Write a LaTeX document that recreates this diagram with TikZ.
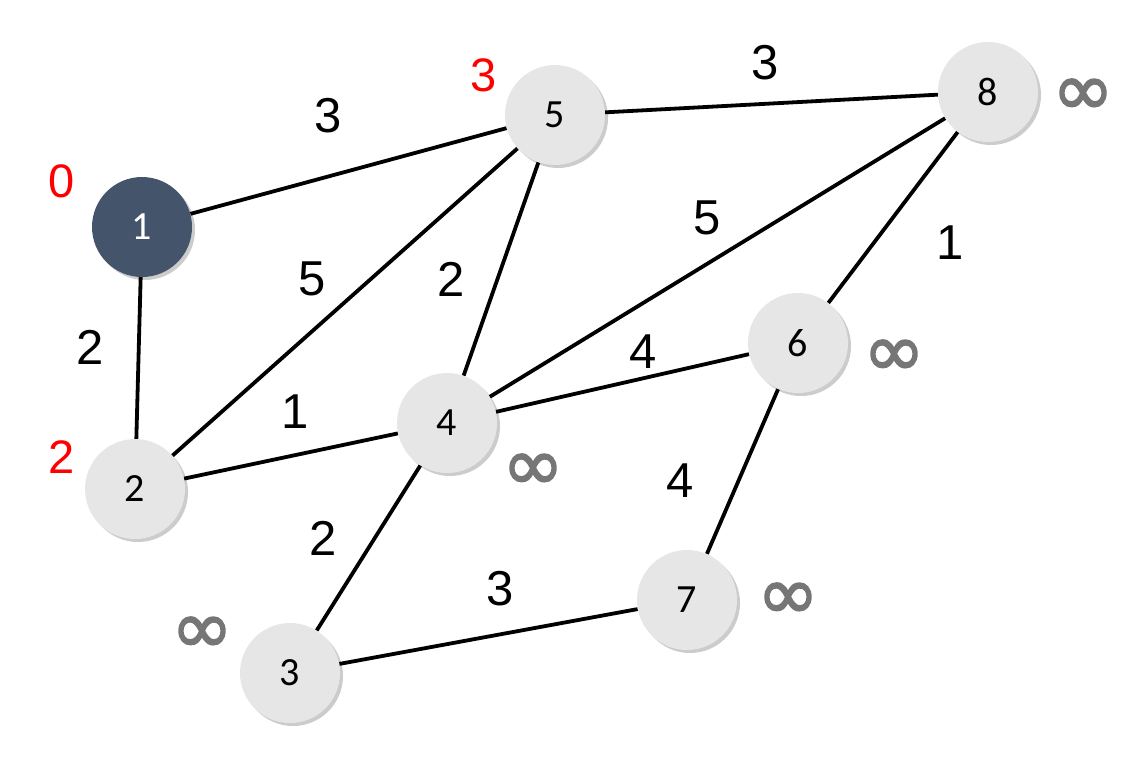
\documentclass[tikz,border=0pt]{standalone}
\usepackage{fontspec}
\setmainfont{Liberation Sans}
\newfontfamily\nodefont{Carlito}
\newfontfamily\inffont[FakeBold=2.2]{DejaVu Sans}
\usetikzlibrary{shadows}
\pgfdeclarelayer{bg}
\pgfsetlayers{bg,main}
\definecolor{nodegray}{HTML}{E6E6E6}
\definecolor{nodedark}{HTML}{44546A}
\definecolor{infgray}{HTML}{767676}
\definecolor{dred}{HTML}{FF0000}
\tikzset{
  vtx/.style={circle, minimum size=100pt, inner sep=0pt, fill=nodegray,
    font=\nodefont\fontsize{40}{40}\selectfont,
    drop shadow={shadow xshift=3pt, shadow yshift=-3pt, opacity=0.2, fill=black}},
  srcvtx/.style={vtx, fill=nodedark, text=white},
  edge/.style={line width=3.8pt, black},
  wlabel/.style={font=\fontsize{49}{49}\selectfont, inner sep=0pt},
  dlabel/.style={font=\fontsize{47}{47}\selectfont, text=dred, inner sep=0pt},
  inflabel/.style={font=\inffont\fontsize{74}{74}\selectfont, text=infgray, inner sep=0pt, yshift=-4pt}
}
\begin{document}
\begin{tikzpicture}[x=1pt,y=-1pt]
\useasboundingbox (0,0) rectangle (1137,768);
\node[srcvtx] (n1) at (142,227) {1};
\node[vtx] (n2) at (135,489) {2};
\node[vtx] (n3) at (290,673) {3};
\node[vtx] (n4) at (447,423) {4};
\node[vtx] (n5) at (555,115) {5};
\node[vtx] (n6) at (798,343) {6};
\node[vtx] (n7) at (687,600) {7};
\node[vtx] (n8) at (988,92) {8};
\begin{pgfonlayer}{bg}
\draw[edge] (n1) -- (n5);
\draw[edge] (n1) -- (n2);
\draw[edge] (n2) -- (n5);
\draw[edge] (n2) -- (n4);
\draw[edge] (n5) -- (n4);
\draw[edge] (n5) -- (n8);
\draw[edge] (n4) -- (n8);
\draw[edge] (n4) -- (n6);
\draw[edge] (n4) -- (n3);
\draw[edge] (n3) -- (n7);
\draw[edge] (n6) -- (n7);
\draw[edge] (n6) -- (n8);
\end{pgfonlayer}
% weights
\node[wlabel] (w15) at (328,116) {3};
\node[wlabel] (w58) at (765,63) {3};
\node[wlabel] (w12) at (90,347) {2};
\node[wlabel] (w25) at (312,279) {5};
\node[wlabel] (w54) at (451,279) {2};
\node[wlabel] (w48) at (707,218) {5};
\node[wlabel] (w86) at (950,243) {1};
\node[wlabel] (w46) at (643,352) {4};
\node[wlabel] (w24) at (295,412) {1};
\node[wlabel] (w43) at (323,538) {2};
\node[wlabel] (w37) at (500,589) {3};
\node[wlabel] (w67) at (680,481) {4};
% distances
\node[dlabel] (d1) at (62,181) {0};
\node[dlabel] (d5) at (484,75) {3};
\node[dlabel] (d2) at (62,457) {2};
\node[inflabel] (i8) at (1083,93) {∞};
\node[inflabel] (i6) at (894,354) {∞};
\node[inflabel] (i4) at (533,468) {∞};
\node[inflabel] (i7) at (788,597) {∞};
\node[inflabel] (i3) at (202,631) {∞};
\end{tikzpicture}
\end{document}
